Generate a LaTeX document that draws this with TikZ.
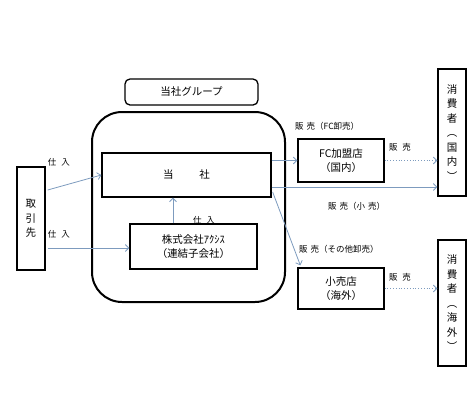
\documentclass[tikz,border=0pt]{standalone}
\usepackage{fontspec}
\setmainfont{Noto Sans CJK JP}
\usetikzlibrary{arrows.meta,calc}
\definecolor{arr}{RGB}{125,155,190}
\tikzset{
  box/.style={draw=black, line width=1.3pt, inner sep=0pt, align=center,
    font=\fontsize{10.5}{13.5}\selectfont},
  vbox/.style={box, font=\fontsize{10.5}{14.5}\selectfont},
  flow/.style={draw=arr, line width=0.8pt, -{Straight Barb[length=3.5pt,width=7pt]}},
  dflow/.style={flow, dotted},
  lbl/.style={font=\fontsize{8.5}{10}\selectfont, inner sep=0pt},
}
\begin{document}
\begin{tikzpicture}[x=1pt,y=-1pt]
\useasboundingbox (0,0) rectangle (475,400);
% group
\node[box, rounded corners=5pt, minimum width=133pt, minimum height=26pt] (grp) at (191.5,92) {当社グループ};
\draw[line width=2pt, rounded corners=30pt] (92,112) rectangle (285,302);
% boxes
\node[box, minimum width=169pt, minimum height=44pt] (toushi) at (186.5,175) {当\hspace{26pt}社};
\node[box, minimum width=127pt, minimum height=45pt] (axis) at (193.5,246.5) {株式会社ｱｸｼｽ\\（連結子会社）};
\node[vbox, minimum width=28pt, minimum height=103pt] (tori) at (31,218.5) {取\\引\\先};
\node[box, minimum width=86pt, minimum height=43pt] (fc) at (341,160.5) {FC加盟店\\（国内）};
\node[vbox, minimum width=28pt, minimum height=127pt] (cd) at (452,132.5) {消\\費\\者\\︵\\国\\内\\︶};
\node[box, minimum width=86pt, minimum height=41pt] (kouri) at (341,288.5) {小売店\\（海外）};
\node[vbox, minimum width=28pt, minimum height=126pt] (co) at (452,303) {消\\費\\者\\︵\\海\\外\\︶};
% arrows
\coordinate (t2) at ($(tori.east)+(2,29.5)$);
\draw[flow] ($(tori.east)+(2,-28.5)$) -- (toushi.west);
\draw[flow] (t2) -- (axis.west |- t2);
\draw[flow] ($(axis.north)+(-20.5,0)$) -- ($(toushi.south)+(-13.5,0)$);
\draw[flow] (fc.west -| toushi.east) -- (fc.west);
\draw[flow] ($(toushi.east)+(0,12)$) -- ($(cd.west)+(0,54.5)$);
\draw[flow] ($(toushi.east)+(1,17)$) -- ($(kouri.north west)+(3,-2)$);
\draw[dflow] (fc.east) -- (cd.west |- fc.east);
\draw[dflow] (kouri.east) -- (co.west |- kouri.east);
% labels
\node[lbl] (l1) at (59,162) {仕\hspace{5pt}入};
\node[lbl] (l2) at (59,234) {仕\hspace{5pt}入};
\node[lbl] (l3) at (204,220) {仕\hspace{5pt}入};
\node[lbl, anchor=west] (l4) at (295,126) {販\hspace{3pt}売（FC卸売）};
\node[lbl] (l5) at (400,147) {販\hspace{5pt}売};
\node[lbl, anchor=west] (l6) at (328,206) {販\hspace{3pt}売（小\hspace{3pt}売）};
\node[lbl, anchor=west] (l7) at (299,249) {販\hspace{3pt}売（その他卸売）};
\node[lbl] (l8) at (400,277) {販\hspace{5pt}売};
\end{tikzpicture}
\end{document}
